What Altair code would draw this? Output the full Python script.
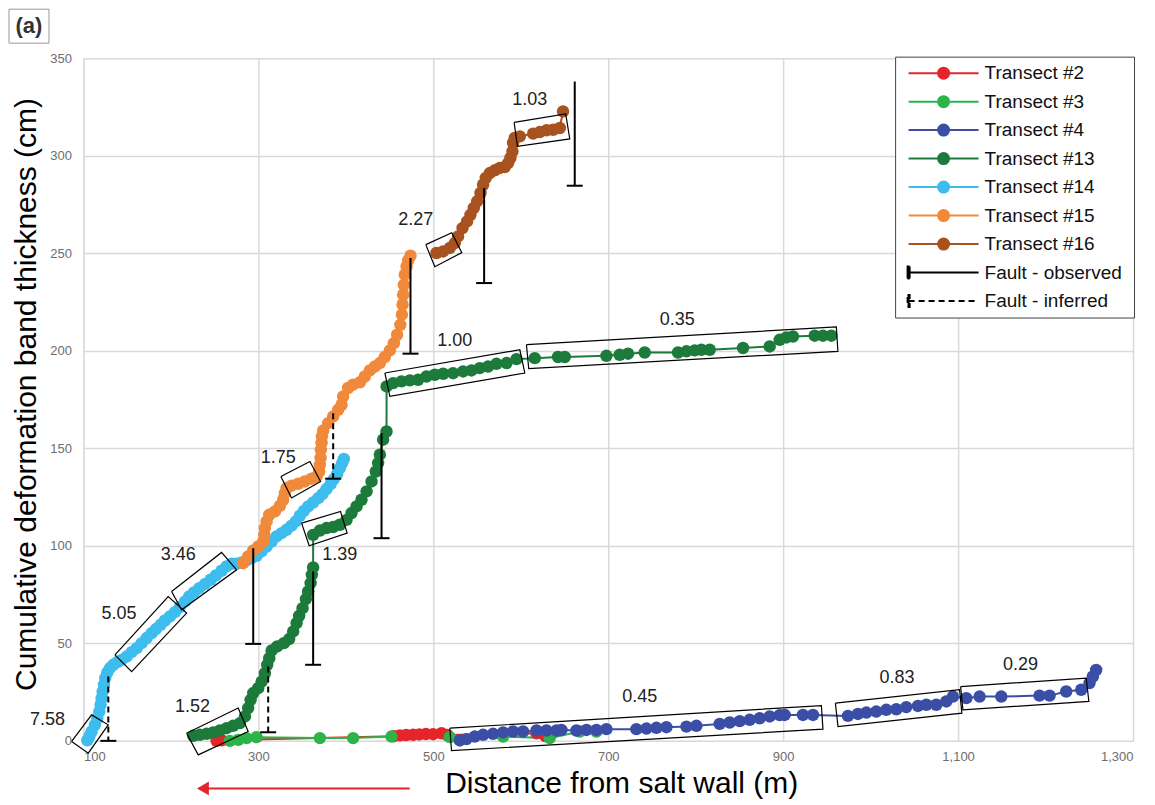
import altair as alt
import pandas as pd

FONT = "Liberation Sans"

# ---------------- data ----------------
series_names = ["Transect #2", "Transect #3", "Transect #4", "Transect #13",
                "Transect #14", "Transect #15", "Transect #16"]
series_colors = ["#E4262B", "#2DB34A", "#3B4EA5", "#1C7A3A",
                 "#3DBDEE", "#F0893A", "#A8521F"]
fault_kinds = ["Fault - observed", "Fault - inferred"]

t2_x = [252.2, 258.0, 455.0, 462.0, 469.0, 476.9, 484.0, 491.5, 499.8, 509.4, 516.0, 618.0, 628.0]
t2_y = [0.0, 0.3, 2.4, 2.8, 3.0, 3.1, 3.3, 3.5, 3.4, 3.9, 3.0, 3.9, 2.5]

t3_x = [267.4, 276.9, 286.5, 297.9, 370.3, 408.3, 452.2, 518.9, 579.8, 633.1, 667.4, 686.5]
t3_y = [0.0, 0.5, 1.4, 1.9, 1.4, 1.4, 2.2, 1.9, 2.2, 1.4, 4.8, 4.8]

t4_x = [530.3, 537.9, 547.4, 556.9, 568.3, 579.8, 591.2, 602.6, 618.0, 629.4, 640.8, 646.5,
        663.6, 675.1, 686.5, 697.9, 732.2, 743.7, 755.1, 766.5, 789.4, 800.8, 827.4, 838.9,
        850.3, 861.7, 873.1, 884.6, 896.0, 901.7, 922.6, 934.1, 974.1, 985.5, 995.1, 1006.5,
        1017.9, 1029.4, 1040.8, 1054.1, 1063.7, 1075.1, 1086.5, 1094.1, 1109.4, 1124.6,
        1149.4, 1193.1, 1204.6, 1223.6, 1240.8, 1250.3, 1254.1, 1257.9]
t4_y = [0.2, 0.9, 2.2, 3.1, 3.6, 4.3, 4.8, 4.8, 5.3, 5.3, 5.3, 5.6,
        5.3, 5.6, 5.6, 6.0, 6.0, 6.3, 6.7, 7.0, 7.3, 7.7, 8.7, 9.4,
        10.1, 10.8, 11.6, 12.5, 13.2, 13.3, 13.3, 13.3, 12.8, 13.8, 14.5, 15.0,
        15.9, 16.2, 17.3, 17.9, 18.5, 18.5, 20.2, 22.7, 21.9, 22.7,
        22.7, 23.2, 23.2, 25.3, 26.2, 29.6, 33.0, 36.4]

t13_x = [225.5, 233.1, 240.8, 248.3, 256.0, 263.7, 271.2, 278.9, 284.6, 288.3, 291.1, 294.1,
         299.8, 303.7, 307.4, 310.1, 312.4, 315.1, 321.5, 329.1, 335.2, 339.8, 343.7, 346.6,
         350.5, 354.3, 356.9, 359.7, 361.1, 362.6,
         362.6, 370.3, 377.9, 385.5, 393.1, 400.8, 406.5, 412.2, 417.9, 423.7, 429.4, 434.3,
         436.9, 438.9, 442.6, 446.5,
         446.6, 454.1, 463.6, 473.1, 482.6, 492.2, 501.7, 511.2, 522.6, 534.1, 543.6, 553.1,
         562.6, 572.2, 583.7, 595.1,
         616.0, 642.6, 650.3, 697.9, 713.1, 722.6, 741.7, 779.8, 789.4, 798.9, 806.5, 816.0,
         854.1, 884.6, 896.0, 903.7, 911.2, 936.0, 945.5, 955.1]
t13_y = [2.6, 3.1, 3.6, 4.3, 5.3, 6.5, 7.7, 9.1, 12.5, 16.8, 21.0, 24.5,
         27.0, 30.4, 34.7, 39.0, 42.4, 46.3, 48.4, 50.1, 52.2, 56.1, 60.4, 64.1,
         68.0, 72.7, 76.6, 80.9, 85.1, 88.9,
         105.6, 107.8, 109.1, 109.6, 110.8, 113.3, 116.8, 120.2, 123.6, 127.9, 133.0, 138.1,
         142.4, 146.7, 154.4, 158.6,
         181.7, 183.4, 184.3, 184.8, 185.1, 186.8, 187.7, 188.2, 188.5, 189.4, 189.9, 191.1,
         191.9, 193.3, 193.7, 195.7,
         196.2, 196.8, 196.8, 197.4, 197.9, 198.5, 199.1, 199.1, 199.7, 200.2, 200.5, 200.5,
         201.4, 202.2, 205.6, 206.8, 207.3, 207.7, 207.7, 207.7]

t14_x = [104.4, 106.7, 109.3, 113.1, 115.8, 118.1, 119.6, 120.8, 121.9, 123.4, 124.9, 127.2,
         130.3, 134.1, 138.7, 143.6, 149.4, 155.1, 160.8, 166.5, 172.2, 177.9, 182.9, 188.2,
         193.1, 198.9, 204.6, 210.3, 216.0, 220.9, 226.3, 232.4, 238.9, 245.4, 251.4, 257.9,
         263.6, 269.3, 275.1, 280.8, 286.5, 292.2, 297.9, 303.6, 309.4, 315.1, 320.8, 326.5,
         332.2, 337.9, 342.9, 347.4, 352.0, 356.9, 362.6, 368.4, 373.3, 377.9, 382.5, 386.3,
         390.1, 393.1, 395.8, 397.7]
t14_y = [0.3, 2.2, 4.8, 8.2, 11.6, 15.0, 18.5, 21.9, 25.3, 28.7, 32.2, 35.0,
         37.3, 39.0, 40.4, 41.5, 43.2, 45.5, 47.5, 50.1, 52.7, 55.2, 57.3, 59.5,
         61.7, 63.8, 66.0, 68.6, 71.4, 74.0, 76.1, 78.3, 80.4, 82.6, 84.8, 87.2,
         89.4, 90.8, 90.8, 91.5, 92.5, 93.7, 94.9, 97.1, 99.6, 102.2, 104.8, 106.5,
         108.2, 110.3, 112.5, 115.4, 117.9, 120.2, 122.2, 124.4, 126.5, 129.1, 131.6, 134.2,
         136.9, 139.8, 142.4, 144.5]

t15_x = [282.6, 288.3, 294.1, 299.8, 305.5, 306.7, 307.4, 309.4, 312.4, 318.9, 324.6, 328.3,
         330.3, 332.2, 337.9, 345.5, 353.1, 360.8, 366.5, 369.5, 370.3, 371.1, 371.4, 372.2,
         372.6, 374.1, 379.8, 385.5, 391.2, 395.1, 396.9, 402.6, 408.3, 416.0, 421.7, 427.4,
         433.1, 438.9, 444.6, 450.3, 454.9, 458.6, 462.3, 464.1, 464.8, 465.5, 466.3, 467.4,
         469.4, 471.2, 473.9]
t15_y = [91.1, 94.5, 97.6, 99.6, 102.2, 105.6, 109.1, 112.5, 115.9, 117.6, 120.5, 123.6,
         127.0, 129.6, 130.8, 131.8, 133.0, 134.4, 135.5, 138.1, 141.5, 145.0, 149.2, 152.7,
         156.1, 159.1, 162.9, 166.3, 169.7, 172.3, 176.6, 180.9, 182.6, 183.8, 186.8, 189.9,
         191.9, 193.7, 196.8, 200.2, 203.9, 208.2, 213.3, 218.5, 223.6, 228.7, 233.8, 239.0,
         243.2, 246.3, 248.7]

t16_x = [503.6, 511.2, 518.9, 524.6, 528.3, 533.4, 538.6, 542.5, 546.3, 550.1, 554.0, 556.9,
         560.0, 564.6, 570.3, 576.0, 581.7, 585.5, 588.2, 590.5, 591.2, 593.1, 598.9, 614.1,
         621.7, 629.4, 636.9, 644.6, 648.3]
t16_y = [250.1, 250.9, 252.7, 255.2, 258.6, 262.9, 266.3, 269.7, 273.2, 276.6, 280.9, 285.1,
         288.6, 291.1, 292.5, 293.7, 294.2, 296.2, 298.8, 302.2, 306.5, 309.1, 309.9, 311.3,
         312.1, 313.0, 313.3, 314.2, 322.7]

# faults (x position, top and bottom of the bar)
fault_x = [294.1, 362.6, 440.8, 473.9, 558.1, 661.7, 128.4, 311.2, 385.5]
fault_top = [98.8, 86.8, 157.8, 247.5, 283.4, 338.0, 33.0, 38.1, 168.0]
fault_bottom = [49.7, 39.0, 103.9, 198.5, 234.7, 284.6, 0.0, 4.4, 134.4]
fault_kind = ["Fault - observed"] * 6 + ["Fault - inferred"] * 3

# gradient annotations (text and its position)
grad_labels = ["7.58", "5.05", "3.46", "1.75", "1.39", "1.52", "2.27", "1.03",
               "1.00", "0.35", "0.45", "0.83", "0.29"]
grad_x = [58.9, 140.6, 208.3, 322.6, 393.1, 224.6, 479.8, 610.3, 524.6, 778.9, 736.0, 1030.3, 1171.4]
grad_y = [10.5, 64.9, 95.4, 145.1, 95.4, 17.6, 266.8, 328.3, 205.2, 215.9, 22.3, 32.2, 38.7]

# corners of the rotated boxes around the fitted segments
box_corner_x = [
    [86.5, 105.5, 128.3, 109.3],
    [136.0, 155.1, 217.9, 196.9],
    [200.8, 212.2, 275.1, 257.9],
    [325.7, 337.9, 371.1, 358.9],
    [349.4, 358.1, 401.5, 393.9],
    [217.9, 231.2, 288.3, 276.9],
    [491.4, 501.7, 532.6, 521.1],
    [592.4, 596.2, 656.0, 651.4],
    [444.6, 450.3, 604.6, 598.9],
    [606.5, 609.1, 962.6, 960.8],
    [518.9, 520.8, 945.5, 943.7],
    [959.7, 962.7, 1104.3, 1101.7],
    [1102.9, 1105.5, 1249.5, 1246.5],
]
box_corner_y = [
    [-0.3, -6.3, 8.2, 13.3],
    [44.1, 35.5, 65.5, 74.0],
    [76.6, 67.2, 87.7, 96.6],
    [135.5, 124.5, 133.0, 143.2],
    [111.6, 100.0, 106.5, 117.6],
    [3.9, -7.2, 4.8, 16.8],
    [254.4, 243.1, 250.3, 260.5],
    [317.1, 304.8, 308.6, 321.4],
    [188.6, 176.6, 188.6, 200.5],
    [203.1, 190.8, 199.7, 212.2],
    [6.5, -5.0, 6.0, 18.1],
    [19.3, 7.3, 14.2, 26.2],
    [27.8, 15.9, 20.2, 32.2],
]

# red arrow under the x axis (data units)
arrow_tail = 473.0
arrow_head = 236.6
arrow_level = -24.4

x_ticks = [100, 300, 500, 700, 900, 1100, 1300]
y_ticks = [0, 50, 100, 150, 200, 250, 300, 350]

# ---------------- tables ----------------
rows = []
for name, xs, ys in zip(series_names,
                        [t2_x, t3_x, t4_x, t13_x, t14_x, t15_x, t16_x],
                        [t2_y, t3_y, t4_y, t13_y, t14_y, t15_y, t16_y]):
    for i, (xv, yv) in enumerate(zip(xs, ys)):
        rows.append({"series": name, "x": xv, "y": yv, "i": i})
pts = pd.DataFrame(rows)

faults = pd.DataFrame({"kind": fault_kind, "x": fault_x, "top": fault_top, "bottom": fault_bottom})

box_rows = []
for b, (cx, cy) in enumerate(zip(box_corner_x, box_corner_y)):
    for k in range(5):
        box_rows.append({"box": b, "k": k, "x": cx[k % 4], "y": cy[k % 4]})
boxes = pd.DataFrame(box_rows)

labels = pd.DataFrame({"label": grad_labels, "x": grad_x, "y": grad_y})
arrow = pd.DataFrame({"x": [arrow_tail], "x2": [arrow_head], "y": [arrow_level]})
one = pd.DataFrame({"t": ["(a)"]})

# ---------------- scales / axes / legends ----------------
xscale = alt.Scale(domain=[100, 1300], nice=False, zero=False)
yscale = alt.Scale(domain=[0, 350], nice=False, zero=False)
color_scale = alt.Scale(domain=series_names, range=series_colors)
dash_scale = alt.Scale(domain=fault_kinds, range=[[1, 0], [6, 4]])

x_axis = alt.Axis(values=x_ticks, format=",.0f", title="Distance from salt wall (m)",
                  grid=True, gridColor="#D9D9D9", gridWidth=1.5, domain=False, ticks=False,
                  labelFont=FONT, labelFontSize=13, labelColor="#6E6E6E", labelPadding=10,
                  titleFont=FONT, titleFontSize=30, titleFontWeight="normal", titleColor="#000000",
                  titleX=538, titleY=52, titleBaseline="alphabetic", titleAlign="center")
y_axis = alt.Axis(values=y_ticks, format=".0f", title="Cumulative deformation band thickness (cm)",
                  grid=True, gridColor="#D9D9D9", gridWidth=1.5, domain=False, ticks=False,
                  labelFont=FONT, labelFontSize=13, labelColor="#6E6E6E", labelPadding=12,
                  titleFont=FONT, titleFontSize=30, titleFontWeight="normal", titleColor="#000000",
                  titleX=-48, titleY=336, titleBaseline="alphabetic", titleAlign="center")

transect_sym = "M-3.5,0H3.5M0.55,0A0.55,0.55,0,1,1,-0.55,0A0.55,0.55,0,1,1,0.55,0"
fault_sym = "M-3.5,0H3.5M-3.6,-0.6H-3.4V0.6H-3.6Z"

LEG_X = 812.5
LEG_Y = -1
ROW = 28.5

legend_common = dict(
    orient="none", legendX=LEG_X, title=None, padding=5,
    labelFont=FONT, labelFontSize=19, labelColor="#111111", labelLimit=300,
    symbolSize=400, symbolOffset=32, labelOffset=30, rowPadding=7.5,
    symbolStrokeWidth=2,
)
color_legend = alt.Legend(legendY=LEG_Y, symbolType=transect_sym, **legend_common)
dash_legend = alt.Legend(legendY=LEG_Y + 7 * ROW, symbolType=fault_sym,
                         symbolStrokeColor="#000000", symbolFillColor="#000000",
                         **legend_common)

color_enc = alt.Color("series:N", scale=color_scale, legend=color_legend, sort=series_names)

# ---------------- layers ----------------
legend_frame = alt.Chart(one).mark_rect(fill="#FFFFFF", stroke="#404040", strokeWidth=1).encode(
    x=alt.value(LEG_X), x2=alt.value(LEG_X + 239), y=alt.value(LEG_Y), y2=alt.value(LEG_Y + 261))

lines = alt.Chart(pts).mark_line(strokeWidth=2).encode(
    x=alt.X("x:Q", scale=xscale, axis=x_axis),
    y=alt.Y("y:Q", scale=yscale, axis=y_axis),
    color=color_enc,
    order="i:Q",
)
points = alt.Chart(pts).mark_circle(size=155, opacity=1).encode(
    x="x:Q", y="y:Q", color=color_enc,
)
fault_rules = alt.Chart(faults).mark_rule(strokeWidth=2, color="#000000").encode(
    x="x:Q", y="top:Q", y2="bottom:Q",
    strokeDash=alt.StrokeDash("kind:N", scale=dash_scale, legend=dash_legend, sort=fault_kinds))
caps = alt.Chart(faults).mark_tick(orient="horizontal", size=16, thickness=2,
                                   color="#000000", opacity=1).encode(x="x:Q", y="bottom:Q")
box_lines = alt.Chart(boxes).mark_line(color="#000000", strokeWidth=1.2).encode(
    x="x:Q", y="y:Q", detail="box:N", order="k:Q")
texts = alt.Chart(labels).mark_text(font=FONT, fontSize=18, color="#222222",
                                    align="center", baseline="middle").encode(
    x="x:Q", y="y:Q", text="label:N")
arrow_line = alt.Chart(arrow).mark_rule(color="#E3242B", strokeWidth=2).encode(
    x="x:Q", x2="x2:Q", y="y:Q")
arrow_headm = alt.Chart(arrow).mark_point(shape="triangle-left", filled=True, size=190,
                                          color="#E3242B", opacity=1).encode(x="x2:Q", y="y:Q")
badge_box = alt.Chart(one).mark_rect(fill="#FFFFFF", stroke="#9A9A9A", strokeWidth=1).encode(
    x=alt.value(9 - 83.5), x2=alt.value(49 - 83.5), y=alt.value(9 - 58), y2=alt.value(43 - 58))
badge_text = alt.Chart(one).mark_text(font=FONT, fontSize=22, fontWeight="bold", color="#333333",
                                      align="center", baseline="middle").encode(
    text="t:N", x=alt.value(29 - 83.5), y=alt.value(26 - 58))

chart = alt.layer(
    lines, points, fault_rules, caps, box_lines, texts, arrow_line, arrow_headm,
    legend_frame, badge_box, badge_text
).properties(
    width=1050, height=683,
    autosize=alt.AutoSizeParams(type="none"),
    padding={"left": 75.5, "top": 50, "right": 14, "bottom": 62},
).configure_view(stroke=None).configure(font=FONT)

chart.save("out.html", embed_options={"renderer": "svg", "actions": False})
